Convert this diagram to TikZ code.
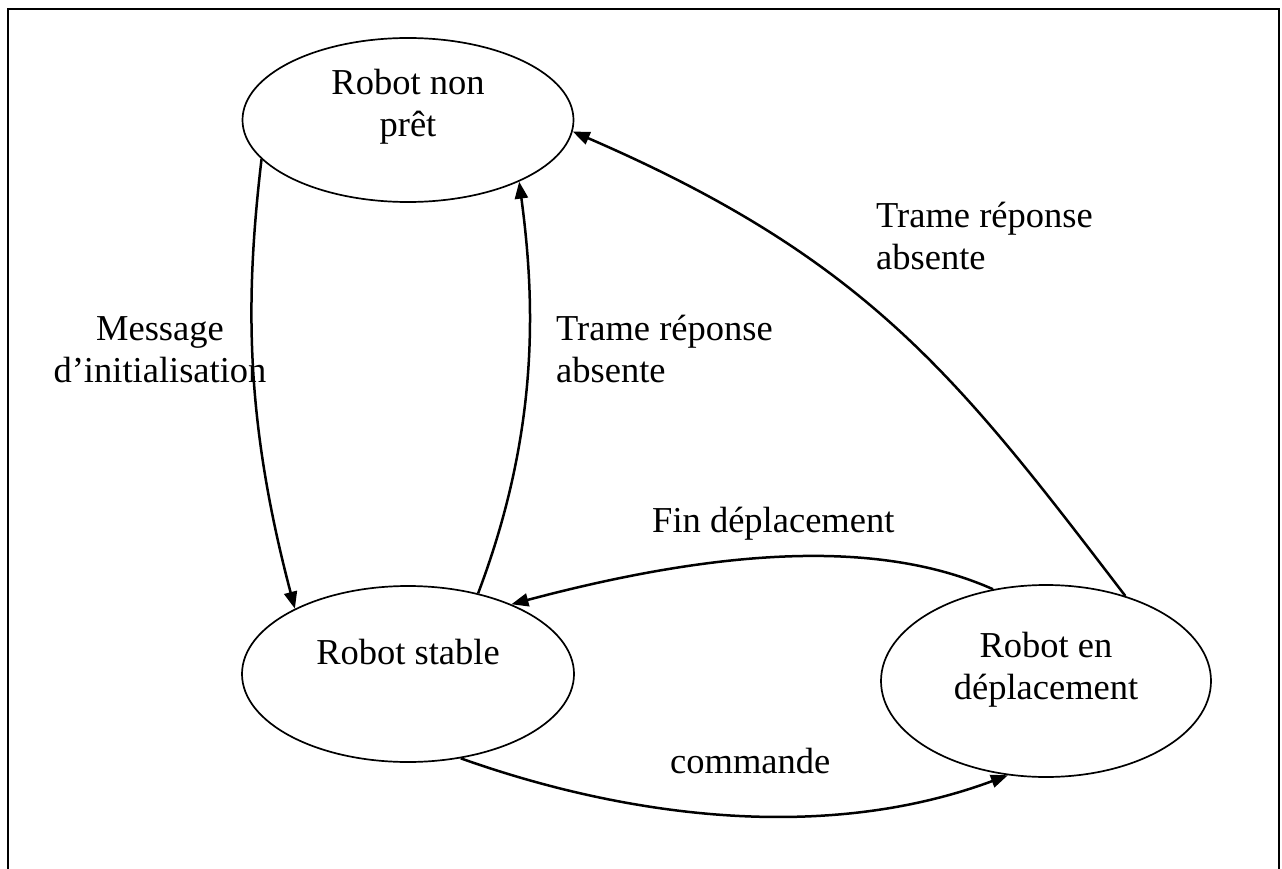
\documentclass[tikz,border=0pt]{standalone}
\usepackage{fontspec}
\setmainfont{Liberation Serif}
\usetikzlibrary{arrows.meta,shapes.geometric}
% two-line text block whose baseline is the first line
\newcommand{\lbltwo}[3]{\begin{tabular}[t]{@{}#1@{}}#2\\#3\end{tabular}}
\begin{document}
\begin{tikzpicture}[x=1pt,y=-1pt,
  state/.style={ellipse, draw, line width=1.7pt, inner sep=0pt},
  txt/.style={inner sep=0pt, font=\fontsize{36.5}{42}\selectfont},
  trans/.style={line width=2.5pt, -{Triangle[length=17pt,width=13pt]}},
  frame/.style={line width=2.6pt}]
\useasboundingbox (0,0) rectangle (1282,869);

% open frame
\draw[frame] (8,875) -- (8,9) -- (1279,9) -- (1279,875);

% states
\node[state, minimum width=331pt, minimum height=164pt] (np) at (408,120) {};
\node[state, minimum width=332pt, minimum height=176pt] (st) at (408,674) {};
\node[state, minimum width=330pt, minimum height=192pt] (dp) at (1046,681) {};

\node[txt, anchor=base] (nptxt) at (408,95) {\lbltwo{c}{Robot non}{prêt}};
\node[txt, anchor=base] (sttxt) at (408,664) {Robot stable};
\node[txt, anchor=base] (dptxt) at (1046,657) {\lbltwo{c}{Robot en}{déplacement}};

% transitions
\draw[trans] (np.195) .. controls (245,300) and (245,420) .. (st.150);
\draw[trans] (st.49) .. controls (540,430) and (535,300) .. (np.-29);
\draw[trans] (dp.47) .. controls (960,380) and (870,260) .. (np.-4.5);
\draw[trans] (dp.120) .. controls (900,548) and (760,538) .. (st.34);
\draw[trans] (st.-58) .. controls (620,815) and (820,845) .. (dp.248);

% transition labels
\node[txt, anchor=base] (l1) at (160,340) {\lbltwo{c}{Message}{d’initialisation}};
\node[txt, anchor=base west] (l2) at (556,340) {\lbltwo{l}{Trame réponse}{absente}};
\node[txt, anchor=base west] (l3) at (876,228) {\lbltwo{l}{Trame réponse}{absente}};
\node[txt, anchor=base west] (l4) at (652,532) {Fin déplacement};
\node[txt, anchor=base west] (l5) at (670,773) {commande};
\end{tikzpicture}
\end{document}
